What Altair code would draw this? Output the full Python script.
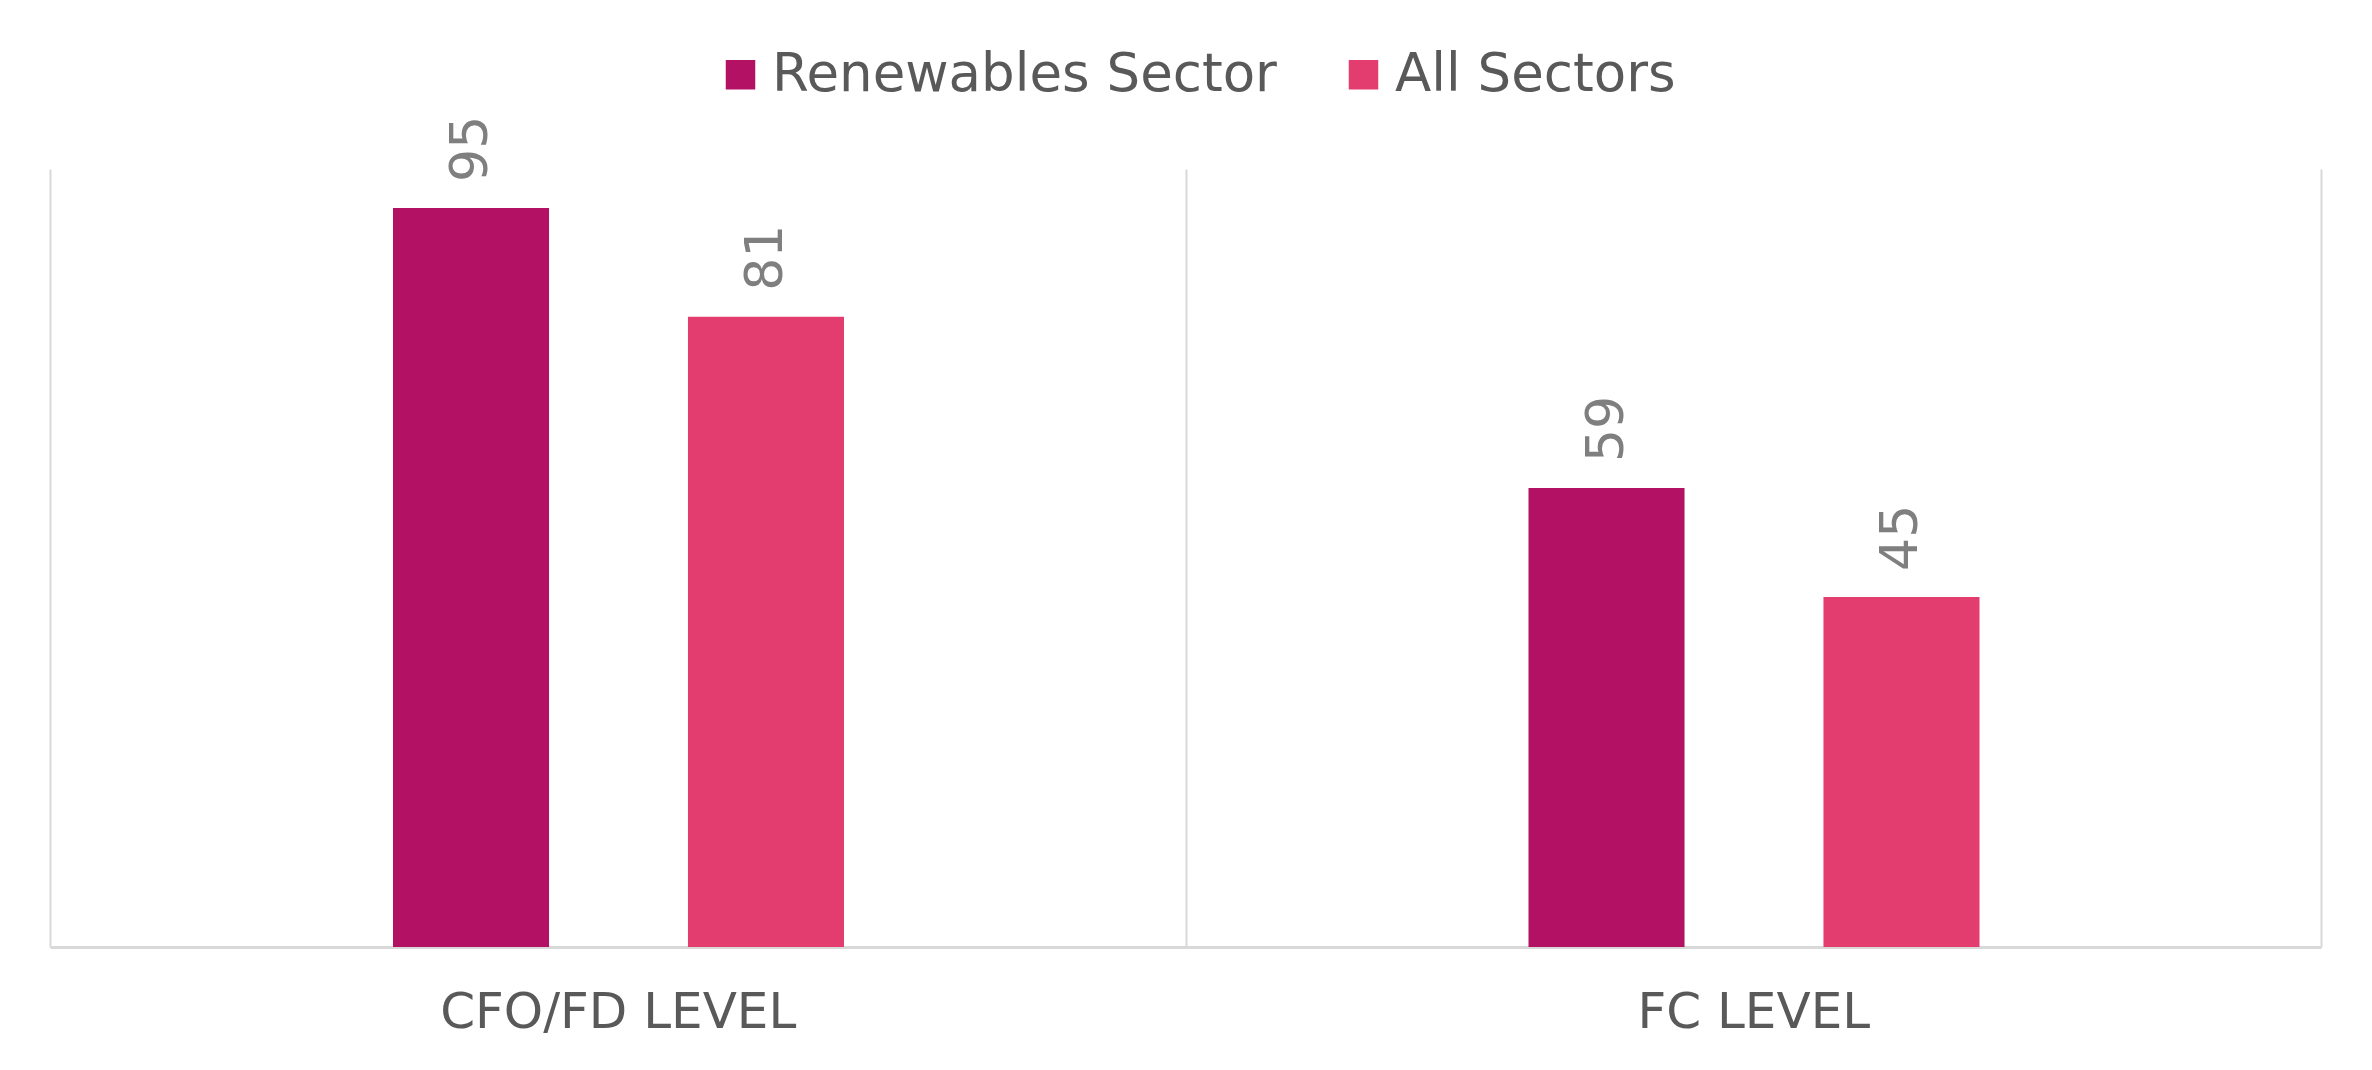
import altair as alt
import pandas as pd

levels = ["CFO/FD LEVEL", "FC LEVEL"]
series = ["Renewables Sector", "All Sectors"]
renewables = [95, 59]
all_sectors = [81, 45]
colors = ["#B31264", "#E33D6F"]

rows = []
for i, lvl in enumerate(levels):
    rows.append({"Level": lvl, "Series": series[0], "Value": renewables[i]})
    rows.append({"Level": lvl, "Series": series[1], "Value": all_sectors[i]})
df = pd.DataFrame(rows)

font = "DejaVu Sans"

x_axis = alt.Axis(
    labelAngle=0,
    labelFont=font,
    labelFontSize=50,
    labelColor="#595959",
    labelBaseline="alphabetic",
    labelPadding=80,
    labelLimit=1000,
    ticks=False,
    tickSize=0,
    domain=True,
    domainColor="#D9D9D9",
    domainWidth=3,
    grid=True,
    gridColor="#D9D9D9",
    gridWidth=2,
    tickBand="extent",
)
x_enc = alt.X(
    "Level:N",
    sort=levels,
    title=None,
    scale=alt.Scale(paddingInner=0, paddingOuter=0),
    axis=x_axis,
)
# bars sit in the middle of each category band
xoff_enc = alt.XOffset(
    "Series:N",
    sort=series,
    scale=alt.Scale(range=[343, 794], paddingInner=0.471, paddingOuter=0),
)
y_enc = alt.Y("Value:Q", scale=alt.Scale(domain=[0, 100], nice=False), axis=None)

base = alt.Chart(df)

bars = base.mark_bar().encode(
    x=x_enc,
    xOffset=xoff_enc,
    y=y_enc,
    color=alt.Color(
        "Series:N",
        sort=series,
        scale=alt.Scale(domain=series, range=colors),
        legend=alt.Legend(
            title=None,
            orient="none",
            direction="horizontal",
            legendX=664,
            legendY=-121,
            padding=0,
            symbolType="square",
            symbolSize=870,
            symbolStrokeWidth=0,
            symbolOpacity=1,
            labelFont=font,
            labelFontSize=53,
            labelColor="#595959",
            labelLimit=1000,
            labelOffset=5,
            columnPadding=60,
        ),
    ),
)

labels = base.mark_text(
    angle=270,
    align="left",
    baseline="middle",
    dx=26,
    font=font,
    fontSize=52,
    color="#7F7F7F",
).encode(
    x=x_enc,
    xOffset=xoff_enc,
    y=y_enc,
    text=alt.Text("Value:Q"),
)

chart = (
    alt.layer(bars, labels)
    .properties(
        width=2271,
        height=778,
        background="white",
        autosize=alt.AutoSizeParams(type="none"),
        padding={"left": 42, "top": 161, "right": 43, "bottom": 110},
    )
    .configure_view(stroke=None)
)

chart.save("out.html", embed_options={"renderer": "svg", "actions": False})
